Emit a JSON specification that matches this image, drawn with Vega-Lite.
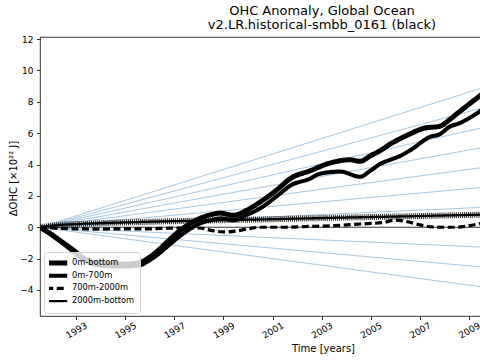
{
  "$schema": "https://vega.github.io/schema/vega-lite/v6.json",
  "width": 441,
  "height": 279,
  "autosize": {"type": "none"},
  "padding": {"left": 40, "top": 37, "right": 0, "bottom": 44},
  "background": "white",
  "config": {
    "font": "DejaVu Sans",
    "view": {"stroke": "#000", "strokeWidth": 0.8},
    "axis": {
      "domain": false, "grid": false,
      "tickColor": "#000", "tickWidth": 0.8, "tickSize": 3.5,
      "labelColor": "#000", "titleColor": "#000",
      "labelFont": "DejaVu Sans", "titleFont": "DejaVu Sans",
      "labelFontSize": 9, "titleFontSize": 10, "titleFontWeight": "normal",
      "labelOverlap": false
    }
  },
  "title": {
    "text": ["OHC Anomaly, Global Ocean", "v2.LR.historical-smbb_0161 (black)"],
    "fontSize": 13, "fontWeight": "normal", "color": "#000", "font": "DejaVu Sans",
    "anchor": "middle", "frame": "group", "dx": 61.5, "offset": 3, "lineHeight": 14.5
  },
  "datasets": {
    "fan": [
      {"k": "p7", "t": 1991.53, "v": 0}, {"k": "p7", "t": 2009.49, "v": 8.855},
      {"k": "p6", "t": 1991.53, "v": 0}, {"k": "p6", "t": 2009.49, "v": 7.59},
      {"k": "p5", "t": 1991.53, "v": 0}, {"k": "p5", "t": 2009.49, "v": 6.325},
      {"k": "p4", "t": 1991.53, "v": 0}, {"k": "p4", "t": 2009.49, "v": 5.06},
      {"k": "p3", "t": 1991.53, "v": 0}, {"k": "p3", "t": 2009.49, "v": 3.795},
      {"k": "p2", "t": 1991.53, "v": 0}, {"k": "p2", "t": 2009.49, "v": 2.53},
      {"k": "p1", "t": 1991.53, "v": 0}, {"k": "p1", "t": 2009.49, "v": 1.265},
      {"k": "m1", "t": 1991.53, "v": 0}, {"k": "m1", "t": 2009.49, "v": -1.265},
      {"k": "m2", "t": 1991.53, "v": 0}, {"k": "m2", "t": 2009.49, "v": -2.53},
      {"k": "m3", "t": 1991.53, "v": 0}, {"k": "m3", "t": 2009.49, "v": -3.795}
    ],
    "series": [
      {"s": "0m-bottom", "t": 1991.53, "v": 0},
      {"s": "0m-bottom", "t": 1991.9, "v": -0.35},
      {"s": "0m-bottom", "t": 1992.35, "v": -0.85},
      {"s": "0m-bottom", "t": 1992.88, "v": -1.45},
      {"s": "0m-bottom", "t": 1993.29, "v": -1.95},
      {"s": "0m-bottom", "t": 1993.6, "v": -2.2},
      {"s": "0m-bottom", "t": 1994.0, "v": -2.3},
      {"s": "0m-bottom", "t": 1994.5, "v": -2.35},
      {"s": "0m-bottom", "t": 1995.0, "v": -2.35},
      {"s": "0m-bottom", "t": 1995.6, "v": -2.25},
      {"s": "0m-bottom", "t": 1996.0, "v": -1.9},
      {"s": "0m-bottom", "t": 1996.4, "v": -1.4},
      {"s": "0m-bottom", "t": 1996.7, "v": -0.95},
      {"s": "0m-bottom", "t": 1997.24, "v": -0.2},
      {"s": "0m-bottom", "t": 1998.05, "v": 0.57},
      {"s": "0m-bottom", "t": 1998.5, "v": 0.8},
      {"s": "0m-bottom", "t": 1998.87, "v": 0.9},
      {"s": "0m-bottom", "t": 1999.4, "v": 0.76},
      {"s": "0m-bottom", "t": 1999.97, "v": 1.1},
      {"s": "0m-bottom", "t": 2000.49, "v": 1.6},
      {"s": "0m-bottom", "t": 2001.19, "v": 2.4},
      {"s": "0m-bottom", "t": 2001.72, "v": 3.1},
      {"s": "0m-bottom", "t": 2002.53, "v": 3.6},
      {"s": "0m-bottom", "t": 2003.35, "v": 4.1},
      {"s": "0m-bottom", "t": 2004.16, "v": 4.3},
      {"s": "0m-bottom", "t": 2004.57, "v": 4.2},
      {"s": "0m-bottom", "t": 2004.98, "v": 4.55},
      {"s": "0m-bottom", "t": 2005.4, "v": 4.9},
      {"s": "0m-bottom", "t": 2005.79, "v": 5.3},
      {"s": "0m-bottom", "t": 2006.2, "v": 5.65},
      {"s": "0m-bottom", "t": 2006.6, "v": 5.95},
      {"s": "0m-bottom", "t": 2007.13, "v": 6.3},
      {"s": "0m-bottom", "t": 2007.83, "v": 6.45},
      {"s": "0m-bottom", "t": 2008.2, "v": 6.85},
      {"s": "0m-bottom", "t": 2008.52, "v": 7.25},
      {"s": "0m-bottom", "t": 2009.05, "v": 7.9},
      {"s": "0m-bottom", "t": 2009.5, "v": 8.45},

      {"s": "0m-700m", "t": 1991.53, "v": 0},
      {"s": "0m-700m", "t": 1991.9, "v": -0.4},
      {"s": "0m-700m", "t": 1992.35, "v": -0.9},
      {"s": "0m-700m", "t": 1992.88, "v": -1.55},
      {"s": "0m-700m", "t": 1993.29, "v": -2.05},
      {"s": "0m-700m", "t": 1993.6, "v": -2.3},
      {"s": "0m-700m", "t": 1994.0, "v": -2.45},
      {"s": "0m-700m", "t": 1994.5, "v": -2.5},
      {"s": "0m-700m", "t": 1995.0, "v": -2.5},
      {"s": "0m-700m", "t": 1995.6, "v": -2.42},
      {"s": "0m-700m", "t": 1996.0, "v": -2.1},
      {"s": "0m-700m", "t": 1996.4, "v": -1.65},
      {"s": "0m-700m", "t": 1996.7, "v": -1.25},
      {"s": "0m-700m", "t": 1997.24, "v": -0.55},
      {"s": "0m-700m", "t": 1998.05, "v": 0.25},
      {"s": "0m-700m", "t": 1998.5, "v": 0.45},
      {"s": "0m-700m", "t": 1998.9, "v": 0.57},
      {"s": "0m-700m", "t": 1999.4, "v": 0.45},
      {"s": "0m-700m", "t": 1999.97, "v": 0.8},
      {"s": "0m-700m", "t": 2000.49, "v": 1.2},
      {"s": "0m-700m", "t": 2001.19, "v": 2.0},
      {"s": "0m-700m", "t": 2001.72, "v": 2.65},
      {"s": "0m-700m", "t": 2002.53, "v": 3.1},
      {"s": "0m-700m", "t": 2002.9, "v": 3.4},
      {"s": "0m-700m", "t": 2003.75, "v": 3.55},
      {"s": "0m-700m", "t": 2004.57, "v": 3.22},
      {"s": "0m-700m", "t": 2004.98, "v": 3.6},
      {"s": "0m-700m", "t": 2005.4, "v": 4.05},
      {"s": "0m-700m", "t": 2005.79, "v": 4.3},
      {"s": "0m-700m", "t": 2006.2, "v": 4.55},
      {"s": "0m-700m", "t": 2006.6, "v": 4.9},
      {"s": "0m-700m", "t": 2007.4, "v": 5.75},
      {"s": "0m-700m", "t": 2007.83, "v": 5.95},
      {"s": "0m-700m", "t": 2008.2, "v": 6.4},
      {"s": "0m-700m", "t": 2008.64, "v": 6.65},
      {"s": "0m-700m", "t": 2009.05, "v": 7.0},
      {"s": "0m-700m", "t": 2009.5, "v": 7.45},

      {"s": "700m-2000m", "t": 1991.53, "v": 0},
      {"s": "700m-2000m", "t": 1992.0, "v": -0.05},
      {"s": "700m-2000m", "t": 1993.0, "v": -0.1},
      {"s": "700m-2000m", "t": 1994.0, "v": -0.12},
      {"s": "700m-2000m", "t": 1995.0, "v": -0.1},
      {"s": "700m-2000m", "t": 1996.0, "v": -0.1},
      {"s": "700m-2000m", "t": 1997.0, "v": -0.05},
      {"s": "700m-2000m", "t": 1998.0, "v": -0.05},
      {"s": "700m-2000m", "t": 1998.5, "v": -0.2},
      {"s": "700m-2000m", "t": 1999.0, "v": -0.3},
      {"s": "700m-2000m", "t": 1999.5, "v": -0.25},
      {"s": "700m-2000m", "t": 2000.0, "v": -0.1},
      {"s": "700m-2000m", "t": 2000.5, "v": 0.0},
      {"s": "700m-2000m", "t": 2001.5, "v": 0.0},
      {"s": "700m-2000m", "t": 2002.5, "v": 0.05},
      {"s": "700m-2000m", "t": 2003.5, "v": 0.1},
      {"s": "700m-2000m", "t": 2004.5, "v": 0.2},
      {"s": "700m-2000m", "t": 2005.5, "v": 0.3},
      {"s": "700m-2000m", "t": 2006.0, "v": 0.45},
      {"s": "700m-2000m", "t": 2006.5, "v": 0.35},
      {"s": "700m-2000m", "t": 2007.0, "v": 0.15},
      {"s": "700m-2000m", "t": 2007.5, "v": 0.02},
      {"s": "700m-2000m", "t": 2008.0, "v": 0.0},
      {"s": "700m-2000m", "t": 2008.5, "v": 0.0},
      {"s": "700m-2000m", "t": 2009.0, "v": 0.1},
      {"s": "700m-2000m", "t": 2009.5, "v": 0.25},

      {"s": "2000m-bottom", "t": 1991.53, "v": 0},
      {"s": "2000m-bottom", "t": 1992.0, "v": 0.1},
      {"s": "2000m-bottom", "t": 1993.0, "v": 0.2},
      {"s": "2000m-bottom", "t": 1994.0, "v": 0.26},
      {"s": "2000m-bottom", "t": 1996.0, "v": 0.35},
      {"s": "2000m-bottom", "t": 1998.0, "v": 0.42},
      {"s": "2000m-bottom", "t": 2000.0, "v": 0.48},
      {"s": "2000m-bottom", "t": 2002.0, "v": 0.55},
      {"s": "2000m-bottom", "t": 2004.0, "v": 0.62},
      {"s": "2000m-bottom", "t": 2006.0, "v": 0.68},
      {"s": "2000m-bottom", "t": 2008.0, "v": 0.75},
      {"s": "2000m-bottom", "t": 2009.5, "v": 0.8}
    ]
  },
  "layer": [
    {
      "data": {"name": "fan"},
      "mark": {"type": "line", "stroke": "#8fb9dc", "strokeWidth": 0.8, "clip": true},
      "encoding": {
        "x": {
          "field": "t", "type": "quantitative",
          "scale": {"domain": [1991.53, 2009.49], "nice": false, "zero": false},
          "axis": {
            "values": [1993, 1995, 1997, 1999, 2001, 2003, 2005, 2007, 2009],
            "tickCount": 20,
            "format": "d", "labelAngle": -30, "labelAlign": "center", "labelBaseline": "middle",
            "labelPadding": 10.5, "labelFlush": false, "labelOverlap": false,
            "title": "Time [years]", "titleX": 283, "titleY": 35, "titleBaseline": "alphabetic", "titleAlign": "center"
          }
        },
        "y": {
          "field": "v", "type": "quantitative",
          "scale": {"domain": [-5.66, 12.13], "nice": false, "zero": false},
          "axis": {
            "values": [-4, -2, 0, 2, 4, 6, 8, 10, 12],
            "tickCount": 20,
            "format": "d", "labelPadding": 3.5, "labelFlush": false, "labelOverlap": false,
            "labelExpr": "replace(datum.label, '-', '\u2212')",
            "title": "\u0394OHC [\u00d710\u00b2\u00b2 J]", "titleX": -27, "titleY": 141, "titleAlign": "center", "titleBaseline": "middle", "titleAngle": -90
          }
        },
        "detail": {"field": "k"}
      }
    },
    {
      "data": {"values": [{"v": 0}]},
      "mark": {"type": "rule", "color": "#000", "strokeWidth": 0.8},
      "encoding": {"y": {"field": "v", "type": "quantitative"}}
    },
    {
      "data": {"name": "series"},
      "transform": [{"filter": "datum.s == '2000m-bottom'"}],
      "mark": {"type": "line", "color": "#000", "strokeWidth": 6, "strokeDash": [1, 1.05], "opacity": 0.85, "interpolate": "monotone", "clip": true},
      "encoding": {
        "x": {"field": "t", "type": "quantitative"},
        "y": {"field": "v", "type": "quantitative"}
      }
    },
    {
      "data": {"name": "series"},
      "mark": {"type": "line", "color": "#000", "interpolate": "monotone", "strokeJoin": "round", "clip": true},
      "encoding": {
        "x": {"field": "t", "type": "quantitative"},
        "y": {"field": "v", "type": "quantitative"},
        "strokeWidth": {
          "field": "s", "type": "nominal",
          "scale": {"domain": ["0m-bottom", "0m-700m", "700m-2000m", "2000m-bottom"], "range": [5, 2.3, 2.3, 1.5]},
          "legend": {
            "title": null, "orient": "none", "legendX": 4, "legendY": 215,
            "fillColor": "rgba(255,255,255,0.8)", "strokeColor": "#d0d0d0", "cornerRadius": 3, "padding": 5,
            "symbolType": "M-2.5,0H3.5", "symbolSize": 49, "symbolStrokeColor": "#000", "symbolFillColor": "transparent",
            "clipHeight": 12,
            "labelFontSize": 8.3, "labelFont": "DejaVu Sans", "labelColor": "#000", "labelOffset": 11, "rowPadding": 0.7
          }
        },
        "strokeDash": {
          "field": "s", "type": "nominal",
          "scale": {"domain": ["0m-bottom", "0m-700m", "700m-2000m", "2000m-bottom"], "range": [[1, 0], [1, 0], [7, 3.5], [1, 0]]},
          "legend": {
            "title": null, "orient": "none", "legendX": 4, "legendY": 215,
            "fillColor": "rgba(255,255,255,0.8)", "strokeColor": "#d0d0d0", "cornerRadius": 3, "padding": 5,
            "symbolType": "M-2.5,0H3.5", "symbolSize": 49, "symbolStrokeColor": "#000", "symbolFillColor": "transparent",
            "clipHeight": 12,
            "labelFontSize": 8.3, "labelFont": "DejaVu Sans", "labelColor": "#000", "labelOffset": 11, "rowPadding": 0.7
          }
        }
      }
    }
  ]
}
